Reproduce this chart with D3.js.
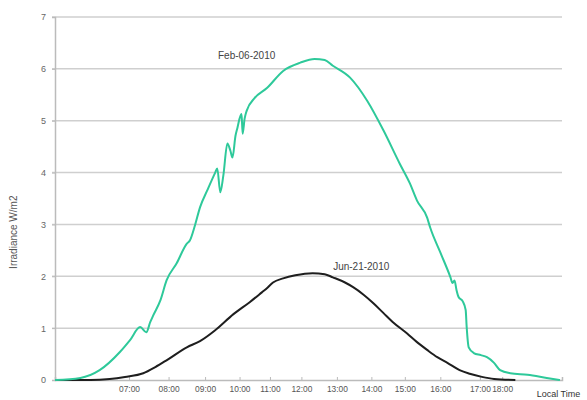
<!DOCTYPE html>
<html>
<head>
<meta charset="utf-8">
<script src="https://cdn.jsdelivr.net/npm/d3@7"></script>
<style>
  body { margin: 0; background: #fff; }
  svg { font-family: "Liberation Sans", Arial, sans-serif; }
</style>
</head>
<body>
<svg id="chart"></svg>
<script>
// sample position along the time axis (irregular sampling), and irradiance
var febX = [0, 25, 44, 64, 74, 84, 90, 94, 97, 104, 110, 120, 130, 133, 138, 143, 150, 158, 160, 163, 166, 170, 173, 175, 178, 180, 182, 184, 185, 187, 189, 197, 209, 225, 242, 256, 266, 274, 291, 308, 324, 340, 350, 357, 367, 370, 380, 390, 392, 394, 396, 398, 402, 405, 406, 408, 413, 420, 426, 433, 439, 449, 466, 485, 498];
var febY = [0, 0.04, 0.19, 0.54, 0.77, 1.02, 0.92, 1.12, 1.25, 1.54, 1.92, 2.25, 2.63, 2.69, 2.98, 3.33, 3.65, 4.0, 4.08, 3.62, 3.94, 4.56, 4.42, 4.29, 4.71, 4.87, 5.04, 5.13, 4.75, 5.04, 5.19, 5.44, 5.63, 5.96, 6.12, 6.19, 6.17, 6.06, 5.83, 5.38, 4.81, 4.17, 3.79, 3.46, 3.13, 2.94, 2.46, 1.98, 1.87, 1.92, 1.73, 1.6, 1.52, 1.35, 1.02, 0.63, 0.52, 0.48, 0.44, 0.33, 0.19, 0.13, 0.1, 0.04, 0];

var junX = [0, 35, 54, 69, 87, 99, 110, 130, 143, 158, 176, 192, 204, 209, 215, 225, 237, 254, 266, 274, 286, 294, 304, 314, 324, 333, 347, 357, 367, 377, 387, 399, 409, 421, 433, 454];
var junY = [0, 0, 0.02, 0.06, 0.13, 0.25, 0.38, 0.63, 0.75, 0.96, 1.27, 1.5, 1.69, 1.77, 1.88, 1.96, 2.02, 2.06, 2.04, 1.98, 1.88, 1.79, 1.65, 1.48, 1.29, 1.12, 0.9, 0.73, 0.58, 0.44, 0.33, 0.19, 0.12, 0.06, 0.02, 0];

var tickPos = [73, 112, 148, 182, 212, 243, 278, 312, 345, 380, 419, 441];
var tickLabels = ["07:00", "08:00", "09:00", "10:00", "11:00", "12:00", "13:00", "14:00", "15:00", "16:00", "17:00", "18:00"];
var yTicks = [0, 1, 2, 3, 4, 5, 6, 7];

var margin = {top: 17, right: 25, bottom: 20, left: 55},
    width = 587 - margin.left - margin.right,
    height = 400 - margin.top - margin.bottom;

var svg = d3.select("#chart")
  .attr("width", 587)
  .attr("height", 400)
  .append("g")
  .attr("transform", "translate(" + margin.left + "," + margin.top + ")");

var x = d3.scaleLinear().domain([0, 500]).range([0, width]);
var y = d3.scaleLinear().domain([0, 7]).range([height, 0]);

// gridlines
svg.append("g")
  .selectAll("line")
  .data(yTicks.slice(1))
  .enter()
  .append("line")
  .attr("x1", -3)
  .attr("x2", width)
  .attr("y1", function(d) { return y(d); })
  .attr("y2", function(d) { return y(d); })
  .attr("stroke", "#cfcfcf")
  .attr("stroke-width", 1.5);

// Y axis
var yAxis = svg.append("g")
  .call(d3.axisLeft(y).tickValues(yTicks).tickSize(3).tickPadding(6).tickFormat(d3.format("d")));
yAxis.select(".domain").attr("stroke", "#bbb").attr("stroke-width", 1.5);
yAxis.selectAll(".tick line").attr("stroke", "#bbb");
yAxis.selectAll("text").attr("fill", "#666").attr("font-size", "9px");

// X axis
var xAxis = svg.append("g")
  .attr("transform", "translate(0," + height + ")")
  .call(d3.axisBottom(x).tickValues(tickPos).tickSize(-3).tickPadding(6)
    .tickFormat(function(d, i) { return tickLabels[i]; }));
xAxis.select(".domain").attr("stroke", "#bbb").attr("stroke-width", 1.5);
xAxis.selectAll(".tick line").attr("stroke", "#bbb");
xAxis.selectAll("text").attr("fill", "#555").attr("font-size", "8.4px");

var line = d3.line()
  .x(function(d) { return x(d[0]); })
  .y(function(d) { return y(d[1]); })
  .curve(d3.curveMonotoneX);

svg.append("path")
  .datum(d3.zip(junX, junY))
  .attr("fill", "none")
  .attr("stroke", "#1e1e1e")
  .attr("stroke-width", 2)
  .attr("d", line);

svg.append("path")
  .datum(d3.zip(febX, febY))
  .attr("fill", "none")
  .attr("stroke", "#2ec99a")
  .attr("stroke-width", 2)
  .attr("d", line);

// series labels
svg.append("text")
  .attr("x", x(189))
  .attr("y", y(6.19))
  .attr("text-anchor", "middle")
  .attr("font-size", "10px")
  .attr("fill", "#444")
  .text("Feb-06-2010");

svg.append("text")
  .attr("x", x(302))
  .attr("y", y(2.13))
  .attr("text-anchor", "middle")
  .attr("font-size", "10px")
  .attr("fill", "#444")
  .text("Jun-21-2010");

// axis titles
svg.append("text")
  .attr("transform", "rotate(-90)")
  .attr("x", -(y(2.85)))
  .attr("y", -38)
  .attr("text-anchor", "middle")
  .attr("font-size", "10px")
  .attr("fill", "#555")
  .text("Irradiance W/m2");

svg.append("text")
  .attr("x", x(475))
  .attr("y", height + 17)
  .attr("font-size", "9px")
  .attr("fill", "#333")
  .text("Local Time");
</script>
</body>
</html>
